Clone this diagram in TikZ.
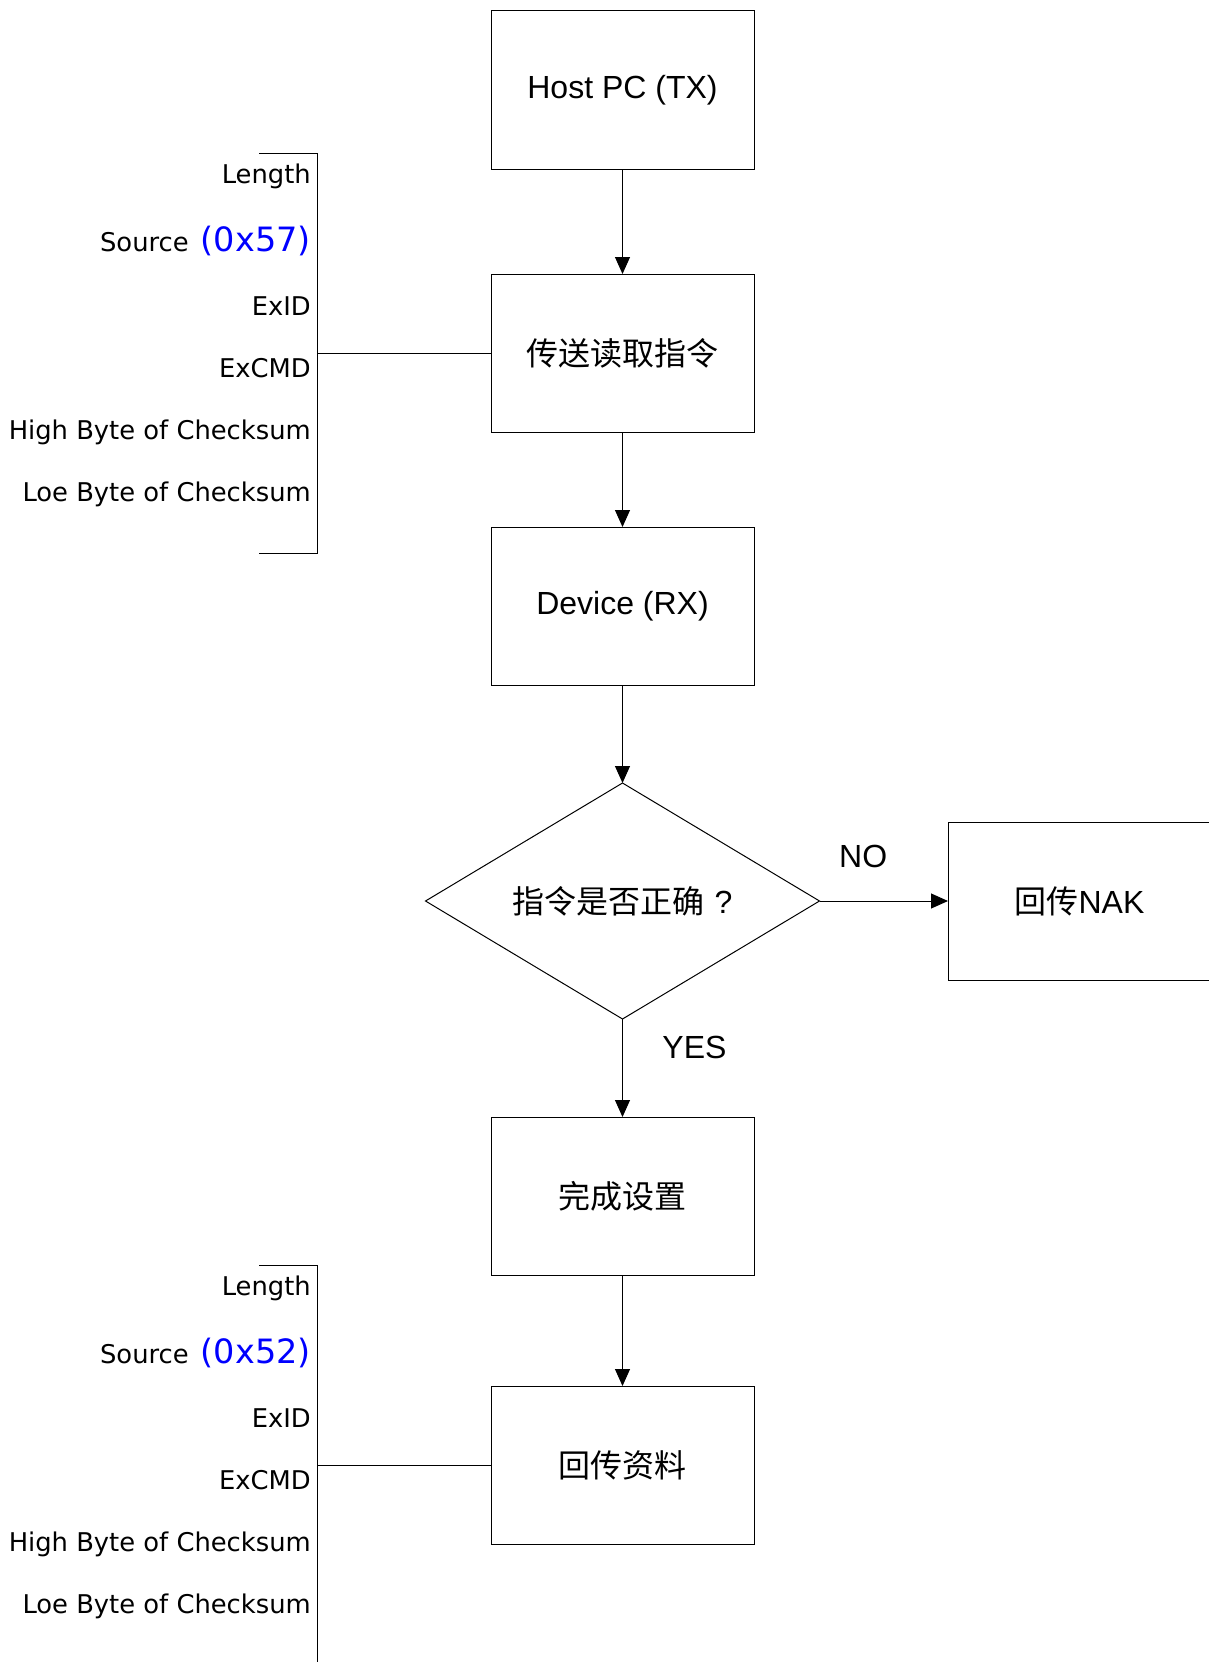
\documentclass[tikz,border=0pt]{standalone}
\usepackage{fontspec}
\setmainfont{Liberation Sans}
\newfontfamily\cjk{Noto Sans CJK SC}
\newfontfamily\fieldfont{DejaVu Sans}
\usetikzlibrary{arrows.meta,shapes.geometric}
\newcommand{\hexval}[1]{\hspace{4pt}{\color{blue}\fontsize{33.5pt}{38pt}\selectfont #1}}
\tikzset{
  stepbox/.style={draw,line width=1pt,minimum width=263pt,minimum height=158pt,
    inner sep=0pt,outer sep=0pt,font=\fontsize{32pt}{38pt}\selectfont},
  checkbox/.style={draw,diamond,aspect=1.67,line width=1pt,minimum width=394pt,
    minimum height=236pt,inner sep=0pt,outer sep=0pt,font=\fontsize{32pt}{38pt}\selectfont},
  flow/.style={-{Triangle[width=15pt,length=17pt]},line width=1pt},
  field/.style={anchor=base east,inner sep=0pt,font=\fieldfont\fontsize{25.8pt}{30pt}\selectfont},
  tag/.style={inner sep=0pt,font=\fontsize{32pt}{38pt}\selectfont}
}
\begin{document}
\begin{tikzpicture}[x=1pt,y=-1pt]
    \useasboundingbox (0,0) rectangle (1208,1662);
    % Passos
    \node[stepbox] (host) at (622.5,90) {Host PC (TX)};
    \node[stepbox] (cmd) at (622.5,353) {\cjk 传送读取指令};
    \node[stepbox] (dev) at (622.5,606) {Device (RX)};
    \node[checkbox] (chk) at (622.5,901) {{\cjk 指令是否正确}\hspace{10pt}?};
    \node[stepbox] (nak) at (1079.5,901) {{\cjk 回传}NAK};
    \node[stepbox] (done) at (622.5,1196) {\cjk 完成设置};
    \node[stepbox] (reply) at (622.5,1465) {\cjk 回传资料};
    % Setas
    \draw[flow] (host) -- (cmd);
    \draw[flow] (cmd) -- (dev);
    \draw[flow] (dev) -- (chk);
    \draw[flow] (chk.east) -- node[tag,pos=0.34,yshift=45pt]{NO} (nak.west);
    \draw[flow] (chk.south) -- node[tag,pos=0.29,xshift=72pt]{YES} (done.north);
    \draw[flow] (done) -- (reply);
    % Campos do comando
    \coordinate (b1top) at (317,153);
    \coordinate (b1bot) at (317,553);
    \draw[line width=1pt] (259,153) -- (b1top) -- (b1bot) -- (259,553);
    \draw[line width=1pt] (cmd.west) -- (cmd.west -| b1top);
    \node[field] (len1) at (311,183) {Length};
    \node[field] (src1) at (311,251) {Source \hexval{(0x57)}};
    \node[field] (id1) at (311,315) {ExID};
    \node[field] (ex1) at (311,377) {ExCMD};
    \node[field] (hi1) at (311,439) {High Byte of Checksum};
    \node[field] (lo1) at (311,501) {Loe Byte of Checksum};
    % Campos da resposta
    \coordinate (b2top) at (317,1265);
    \coordinate (b2bot) at (317,1670);
    \draw[line width=1pt] (259,1265) -- (b2top) -- (b2bot);
    \draw[line width=1pt] (reply.west) -- (reply.west -| b2top);
    \node[field] (len2) at (311,1295) {Length};
    \node[field] (src2) at (311,1363) {Source \hexval{(0x52)}};
    \node[field] (id2) at (311,1427) {ExID};
    \node[field] (ex2) at (311,1489) {ExCMD};
    \node[field] (hi2) at (311,1551) {High Byte of Checksum};
    \node[field] (lo2) at (311,1613) {Loe Byte of Checksum};
\end{tikzpicture}
\end{document}
